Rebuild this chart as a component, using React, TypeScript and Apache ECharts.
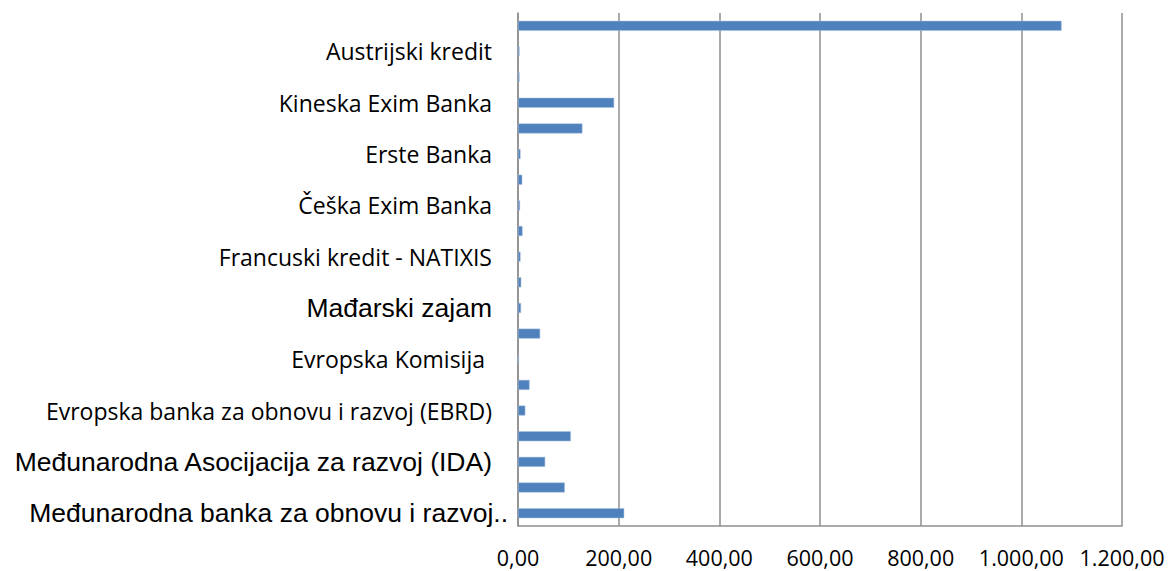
import React, { useEffect, useRef } from "react";
import * as echarts from "echarts";

// Categories from bottom to top (every other one is labelled on the axis)
const categories: string[] = [
  "Međunarodna banka za obnovu i razvoj..",
  "",
  "Međunarodna Asocijacija za razvoj (IDA)",
  "",
  "Evropska banka za obnovu i razvoj (EBRD)",
  "",
  "Evropska Komisija",
  "",
  "Mađarski zajam",
  "",
  "Francuski kredit - NATIXIS",
  "",
  "Češka Exim Banka",
  "",
  "Erste Banka",
  "",
  "Kineska Exim Banka",
  "",
  "Austrijski kredit",
  "",
];

const values: number[] = [
  211, 93, 54, 105, 14.5, 23, 2, 44, 6, 6.5, 5, 9, 4, 8.5, 5, 128, 191, 3, 3, 1080,
];

const xTicks = { min: 0, max: 1200, interval: 200 };

const arialLabels = new Set<string>([
  "Međunarodna Asocijacija za razvoj (IDA)",
  "Mađarski zajam",
]);

function formatNumber(v: number): string {
  const int = Math.round(v).toString();
  const withDots = int.replace(/\B(?=(\d{3})+(?!\d))/g, ".");
  return withDots + ",00";
}

export default function App() {
  const ref = useRef<HTMLDivElement>(null);

  useEffect(() => {
    if (!ref.current) return;
    const chart = echarts.init(ref.current, undefined, { renderer: "svg" });
    const gridColor = "#8e8e8e";
    chart.setOption({
      animation: false,
      backgroundColor: "#ffffff",
      grid: { left: 518, right: 48, top: 13, bottom: 45, containLabel: false },
      xAxis: {
        type: "value",
        min: xTicks.min,
        max: xTicks.max,
        interval: xTicks.interval,
        axisLine: { show: true, lineStyle: { color: gridColor, width: 1.5 } },
        axisTick: { show: false },
        splitLine: { show: true, lineStyle: { color: gridColor, width: 1.5 } },
        axisLabel: {
          margin: 20,
          color: "#000",
          fontFamily: "Open Sans",
          fontSize: 21.5,
          formatter: (v: number) => formatNumber(v),
        },
      },
      yAxis: {
        type: "category",
        data: categories,
        axisLine: { show: true, lineStyle: { color: gridColor, width: 1.5 } },
        axisTick: { show: false },
        splitLine: { show: false },
        axisLabel: {
          interval: 1,
          margin: 10,
          formatter: (name: string) => {
            if (name === "Međunarodna banka za obnovu i razvoj..") return `{ibrd|${name}}`;
            if (arialLabels.has(name)) return `{ar|${name}}`;
            if (name === "Evropska Komisija") return `{ek|${name}}`;
            return `{c|${name}}`;
          },
          rich: {
            c: { fontFamily: "Open Sans", fontSize: 23, color: "#000", padding: [0, 16, 0, 0] },
            ek: { fontFamily: "Open Sans", fontSize: 23, color: "#000", padding: [0, 23, 0, 0] },
            ar: { fontFamily: "Liberation Sans", fontSize: 26.5, color: "#000", padding: [0, 16, 0, 0] },
            ibrd: { fontFamily: "Liberation Sans", fontSize: 26.5, color: "#000", padding: [0, 0, 0, 0] },
          },
        },
      },
      series: [
        {
          type: "bar",
          data: values,
          barWidth: 10,
          itemStyle: { color: "#4f81bd", borderColor: "#a9c0de", borderWidth: 0.5 },
        },
      ],
    });
    return () => chart.dispose();
  }, []);

  return (
    <div
      ref={ref}
      style={{ position: "fixed", left: 0, top: 0, width: 1170, height: 571 }}
    />
  );
}
